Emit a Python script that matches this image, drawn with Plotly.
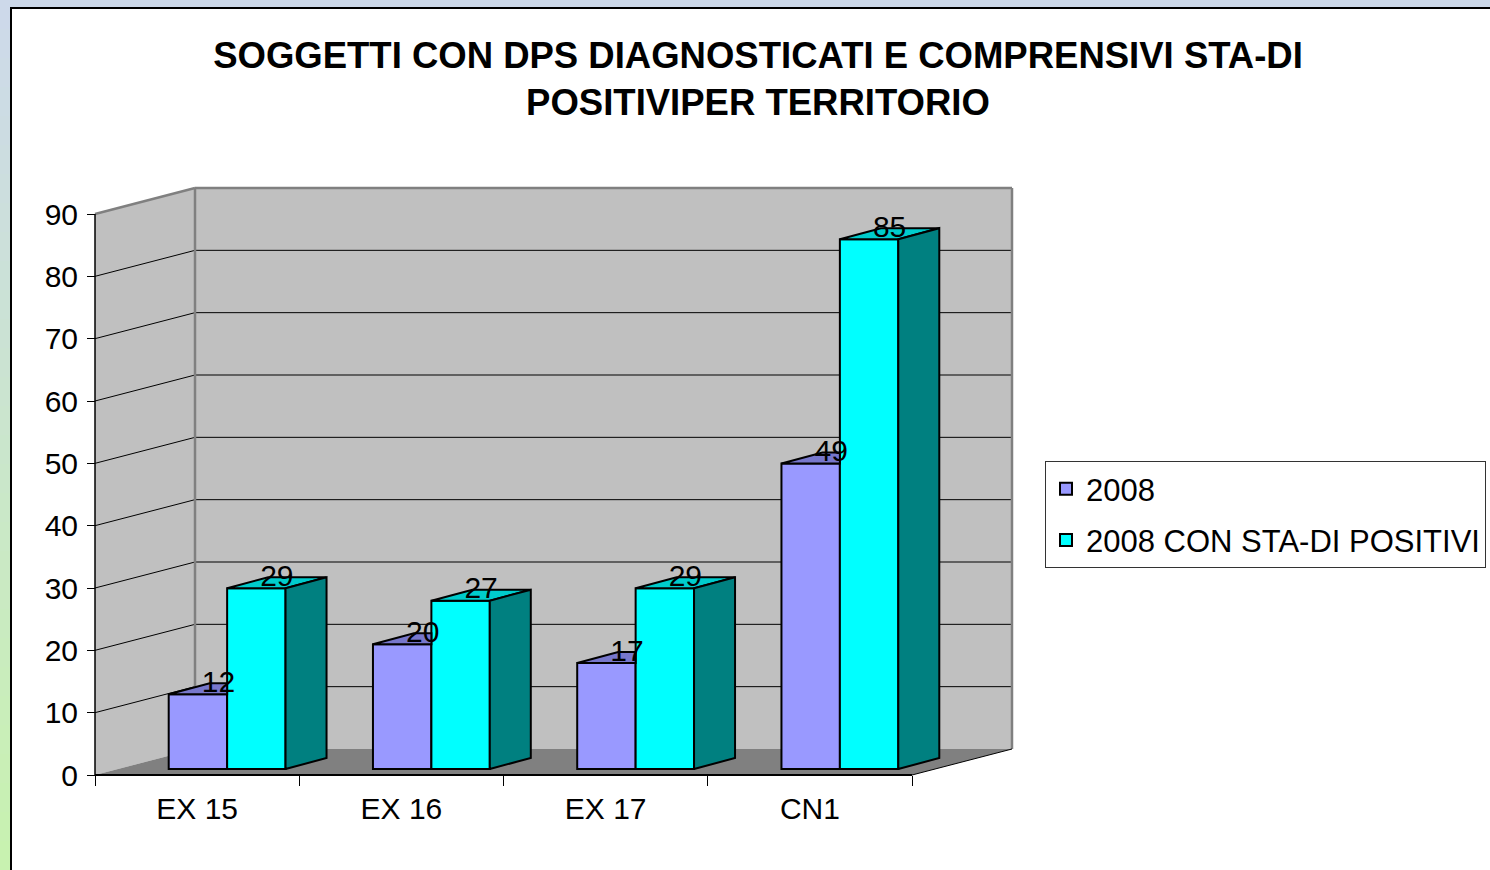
import plotly.graph_objects as go

# ---------------- data ----------------
categories = ["EX 15", "EX 16", "EX 17", "CN1"]
series_names = ["2008", "2008 CON STA-DI POSITIVI"]
values_2008 = [12, 20, 17, 49]
values_sta = [29, 27, 29, 85]
y_ticks = [0, 10, 20, 30, 40, 50, 60, 70, 80, 90]

# ---------------- styling / geometry ----------------
FONT = "Liberation Sans, Arial, sans-serif"
W, H = 1490, 870
PL, PR, PB, PT = 89, 1019, 781, 182          # plot area pixel edges
X0PX, Y0PX = 95, 775                          # pixel of x=0 / y=0
SX = (912 - 95) / 4.0                         # px per category
SY = (775 - 214) / 90.0                       # px per value unit
DX, DY = 100 / SX, 26 / SY                    # wall depth (oblique offset)
BFX, BFY = 30 / SX, 6 / SY                    # bar front plane offset
BDX, BDY = 41 / SX, 11 / SY                   # bar depth
BW = 0.286                                    # bar width (category units)
NCAT = len(categories)
YMAX = max(y_ticks)

front_cols = ["#9999ff", "#00ffff"]
top_cols = ["#7777cc", "#00cccc"]
side_cols = ["#666699", "#008080"]

xr = [(PL - X0PX) / SX, (PR - X0PX) / SX]
yr = [(Y0PX - PB) / SY, (Y0PX - PT) / SY]


def px_x(p):  # pixel -> paper x
    return (p - PL) / (PR - PL)


def px_y(p):  # pixel -> paper y
    return (PB - p) / (PB - PT)


fig = go.Figure()
shapes = []

# slide background: gradient strip at left, white chart area with border
NB = 30
c_top = (205, 217, 234)
c_bot = (200, 242, 176)
for k in range(NB):
    t = k / (NB - 1)
    col = tuple(int(round(c_top[j] + (c_bot[j] - c_top[j]) * t)) for j in range(3))
    y0p = H * k / NB
    y1p = H * (k + 1) / NB + 1
    shapes.append(dict(type="rect", xref="paper", yref="paper",
                       x0=px_x(-2), x1=px_x(12), y0=px_y(y1p), y1=px_y(y0p),
                       fillcolor="rgb(%d,%d,%d)" % col, line=dict(width=0), layer="below"))
shapes.append(dict(type="rect", xref="paper", yref="paper",
                   x0=px_x(-2), x1=px_x(W + 2), y0=px_y(8), y1=px_y(-2),
                   fillcolor="#cdd9ea", line=dict(width=0), layer="below"))
shapes.append(dict(type="rect", xref="paper", yref="paper",
                   x0=px_x(11), x1=px_x(W + 20), y0=px_y(H + 20), y1=px_y(8),
                   fillcolor="white", line=dict(color="black", width=2), layer="below"))

WALL = "#c0c0c0"
EDGE = "#808080"
shapes.append(dict(type="path", xref="x", yref="y",
                   path=f"M{DX},{DY} L{NCAT + DX},{DY} L{NCAT + DX},{YMAX + DY} L{DX},{YMAX + DY} Z",
                   fillcolor=WALL, line=dict(width=0), layer="below"))
shapes.append(dict(type="path", xref="x", yref="y",
                   path=f"M0,0 L{DX},{DY} L{DX},{YMAX + DY} L0,{YMAX} Z",
                   fillcolor=WALL, line=dict(width=0), layer="below"))
shapes.append(dict(type="path", xref="x", yref="y",
                   path=f"M0,0 L{NCAT},0 L{NCAT + DX},{DY} L{DX},{DY} Z",
                   fillcolor="#808080", line=dict(width=0), layer="below"))
for v in y_ticks[1:-1]:
    shapes.append(dict(type="line", xref="x", yref="y", x0=DX, x1=NCAT + DX, y0=v + DY, y1=v + DY,
                       line=dict(color="black", width=1), layer="below"))
    shapes.append(dict(type="line", xref="x", yref="y", x0=0, x1=DX, y0=v, y1=v + DY,
                       line=dict(color="black", width=1), layer="below"))
shapes.append(dict(type="line", xref="x", yref="y", x0=DX, x1=DX, y0=DY, y1=YMAX + DY,
                   line=dict(color=EDGE, width=2.5), layer="below"))
shapes.append(dict(type="line", xref="x", yref="y", x0=NCAT + DX, x1=NCAT + DX, y0=DY, y1=YMAX + DY,
                   line=dict(color=EDGE, width=2.5), layer="below"))
shapes.append(dict(type="line", xref="x", yref="y", x0=DX, x1=NCAT + DX, y0=YMAX + DY, y1=YMAX + DY,
                   line=dict(color=EDGE, width=2.5), layer="below"))
shapes.append(dict(type="line", xref="x", yref="y", x0=0, x1=DX, y0=YMAX, y1=YMAX + DY,
                   line=dict(color=EDGE, width=2.5), layer="below"))
shapes.append(dict(type="line", xref="x", yref="y", x0=0, x1=0, y0=0, y1=YMAX,
                   line=dict(color="black", width=1.5), layer="below"))
shapes.append(dict(type="line", xref="x", yref="y", x0=0, x1=NCAT, y0=0, y1=0,
                   line=dict(color="black", width=2), layer="below"))
shapes.append(dict(type="line", xref="x", yref="y", x0=NCAT, x1=NCAT + DX, y0=0, y1=DY,
                   line=dict(color="black", width=1), layer="below"))

# ---------------- bars ----------------
all_vals = [values_2008, values_sta]
nser = len(all_vals)
for s, vals in enumerate(all_vals):
    lefts = [i + 0.5 - nser * BW / 2 + s * BW + BFX for i in range(NCAT)]
    centers = [l + BW / 2 for l in lefts]
    fig.add_trace(go.Bar(
        x=centers, y=vals, base=BFY, width=BW, name=series_names[s],
        marker=dict(color=front_cols[s], line=dict(color="black", width=2)),
        legendgroup=series_names[s], hoverinfo="skip"))

    tx, ty, sx_, sy_ = [], [], [], []
    for i, v in enumerate(vals):
        x0, x1 = lefts[i], lefts[i] + BW
        top = BFY + v
        hidden = s + 1 < nser and all_vals[s + 1][i] >= v
        if hidden:
            tx += [x0, x1, x1, x0 + BDX, x0, None]
            ty += [top, top, top + BDY, top + BDY, top, None]
        else:
            tx += [x0, x1, x1 + BDX, x0 + BDX, x0, None]
            ty += [top, top, top + BDY, top + BDY, top, None]
            sx_ += [x1, x1 + BDX, x1 + BDX, x1, x1, None]
            sy_ += [BFY, BFY + BDY, top + BDY, top, BFY, None]
    fig.add_trace(go.Scatter(x=tx, y=ty, mode="lines", fill="toself", fillcolor=top_cols[s],
                             line=dict(color="black", width=2), showlegend=False, hoverinfo="skip"))
    if sx_:
        fig.add_trace(go.Scatter(x=sx_, y=sy_, mode="lines", fill="toself", fillcolor=side_cols[s],
                                 line=dict(color="black", width=2), showlegend=False, hoverinfo="skip"))

# data labels
for s, vals in enumerate(all_vals):
    lefts = [i + 0.5 - nser * BW / 2 + s * BW + BFX for i in range(NCAT)]
    fig.add_trace(go.Scatter(
        x=[l + BW / 2 + BDX / 2 for l in lefts], y=[BFY + v - 0.8 for v in vals],
        mode="text", text=[str(v) for v in vals], textposition="top center",
        textfont=dict(family=FONT, size=30, color="black"), showlegend=False,
        hoverinfo="skip", cliponaxis=False))

fig.update_layout(
    width=W, height=H,
    margin=dict(l=PL, r=W - PR, t=PT, b=H - PB, pad=0, autoexpand=False),
    paper_bgcolor="white", plot_bgcolor="rgba(0,0,0,0)",
    barmode="overlay",
    shapes=shapes,
    font=dict(family=FONT, color="black"),
    title=dict(text="SOGGETTI CON DPS DIAGNOSTICATI E COMPRENSIVI STA-DI<br>POSITIVIPER TERRITORIO",
               font=dict(family=FONT, size=36.5, color="black", weight="bold"),
               x=758 / W, xanchor="center", xref="container",
               y=1 - 68 / H, yanchor="top", yref="container"),
    xaxis=dict(range=xr, showgrid=False, zeroline=False, showline=False,
               tickvals=[i + 0.5 for i in range(NCAT)], ticktext=categories, ticks="",
               tickfont=dict(family=FONT, size=30, color="black"),
               ticklabelstandoff=13,
               minor=dict(tickvals=list(range(NCAT + 1)), ticks="outside", ticklen=10,
                          tickcolor="black", tickwidth=1),
               anchor="free", position=(PB - Y0PX) / (PB - PT), fixedrange=True),
    yaxis=dict(range=yr, showgrid=False, zeroline=False, showline=False,
               tickvals=y_ticks, ticks="outside", ticklen=8, tickcolor="black", tickwidth=1,
               tickfont=dict(family=FONT, size=30, color="black"),
               ticklabelstandoff=3,
               anchor="free", position=(X0PX - PL) / (PR - PL), fixedrange=True),
    legend=dict(x=px_x(1045), y=px_y(461), xanchor="left", yanchor="top",
                bgcolor="white", bordercolor="#333333", borderwidth=1,
                font=dict(family=FONT, size=31, color="black"),
                tracegroupgap=8, itemwidth=30),
    showlegend=True,
)

fig.write_html("out.html", config={"displayModeBar": False},
               post_script="document.body.style.margin='0';")
